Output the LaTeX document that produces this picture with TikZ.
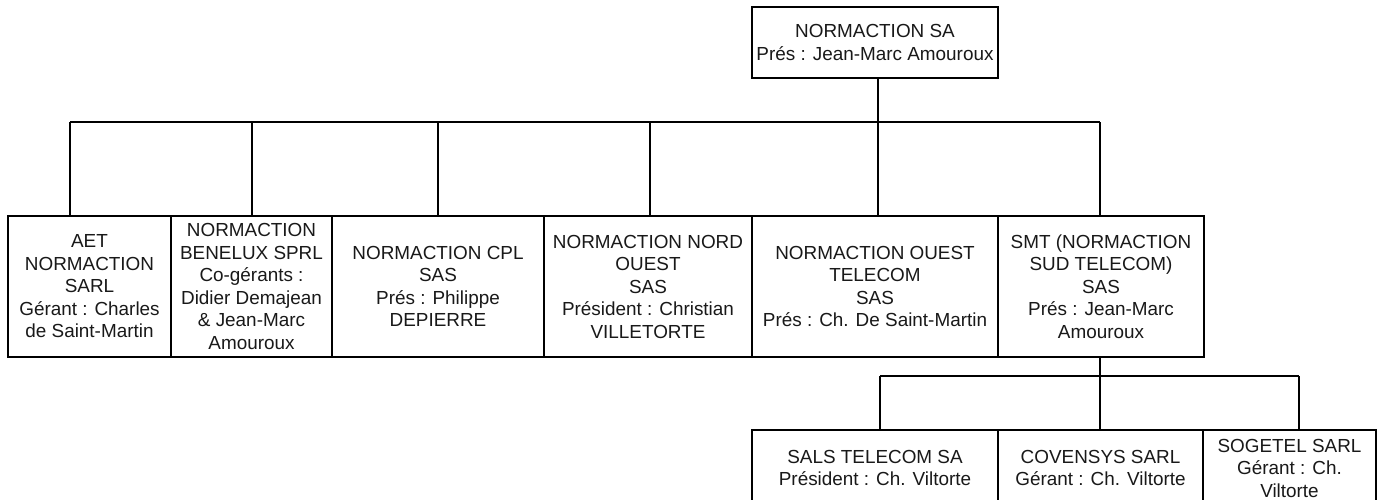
\documentclass[tikz,border=0pt]{standalone}
\usepackage{fontspec}
\setmainfont{Liberation Sans}
\begin{document}
\begin{tikzpicture}[x=1pt,y=-1pt,
  box/.style={draw, line width=2.2pt, align=center, inner sep=2pt,
    font=\fontsize{18.9}{22.5}\selectfont, text=black!90},
  mid/.style={box, minimum height=141pt},
  bot/.style={box, minimum height=76pt},
  conn/.style={line width=1.6pt}]
\useasboundingbox (0,0) rectangle (1383,499);
\clip (0,0) rectangle (1383,499);
\fill[white] (0,0) rectangle (1383,499);
% top
\node[box, minimum width=246pt, minimum height=71pt] (top) at (875,42.5)
  {NORMACTION SA\\Prés : Jean-Marc Amouroux};
% middle row
\node[mid, minimum width=163pt] (aet) at (89.5,286.5)
  {AET\\NORMACTION\\SARL\\Gérant : Charles\\de Saint-Martin};
\node[mid, minimum width=161pt] (ben) at (251.5,286.5)
  {NORMACTION\\BENELUX SPRL\\Co-gérants :\\Didier Demajean\\\& Jean-Marc\\Amouroux};
\node[mid, minimum width=212pt] (cpl) at (438,286.5)
  {NORMACTION CPL\\SAS\\Prés : Philippe\\DEPIERRE};
\node[mid, minimum width=208pt] (nord) at (648,286.5)
  {NORMACTION NORD\\OUEST\\SAS\\Président : Christian\\VILLETORTE};
\node[mid, minimum width=246pt] (ouest) at (875,286.5)
  {NORMACTION OUEST\\TELECOM\\SAS\\Prés : Ch. De Saint-Martin};
\node[mid, minimum width=206pt] (smt) at (1101,286.5)
  {SMT (NORMACTION\\SUD TELECOM)\\SAS\\Prés : Jean-Marc\\Amouroux};
% bottom row
\node[bot, minimum width=246pt] (sals) at (875,468)
  {SALS TELECOM SA\\Président : Ch. Viltorte};
\node[bot, minimum width=205pt] (cov) at (1100.5,468)
  {COVENSYS SARL\\Gérant : Ch. Viltorte};
\node[bot, minimum width=173pt] (sog) at (1289.5,468)
  {SOGETEL SARL\\Gérant : Ch.\\Viltorte};
% bus coordinates
\coordinate (b1) at (70,122);
\coordinate (b2) at (252,122);
\coordinate (b3) at (438,122);
\coordinate (b4) at (650,122);
\coordinate (b5) at (878,122);
\coordinate (b6) at (1100,122);
\coordinate (c1) at (880,376);
\coordinate (c2) at (1100,376);
\coordinate (c3) at (1299,376);
% connectors
\draw[conn] (top.south -| b5) -- (b5);
\draw[conn] (b1) -- (b6);
\draw[conn] (b1) -- (b1 |- aet.north);
\draw[conn] (b2) -- (b2 |- ben.north);
\draw[conn] (b3) -- (b3 |- cpl.north);
\draw[conn] (b4) -- (b4 |- nord.north);
\draw[conn] (b5) -- (b5 |- ouest.north);
\draw[conn] (b6) -- (b6 |- smt.north);
\draw[conn] (smt.south -| c2) -- (c2);
\draw[conn] (c1) -- (c3);
\draw[conn] (c1) -- (c1 |- sals.north);
\draw[conn] (c2) -- (c2 |- cov.north);
\draw[conn] (c3) -- (c3 |- sog.north);
\end{tikzpicture}
\end{document}
